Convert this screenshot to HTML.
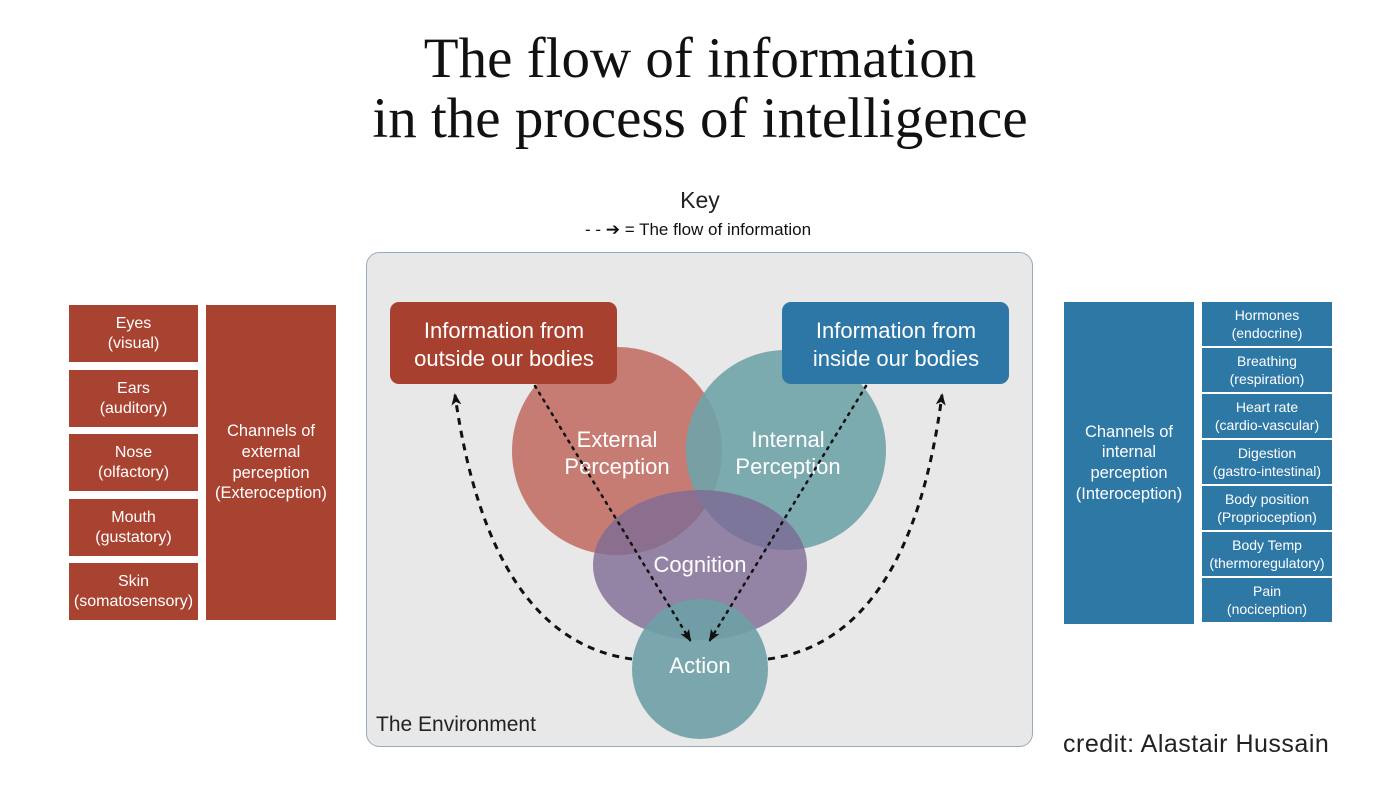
<!DOCTYPE html>
<html><head><meta charset="utf-8"><style>
body{margin:0;width:1400px;height:788px;background:#fff;position:relative;overflow:hidden;font-family:"Liberation Sans",sans-serif}
.t{position:absolute;left:0;width:1400px;text-align:center;font-family:"Liberation Serif",serif;font-size:57px;color:#111}
.b{position:absolute;color:#fff;text-align:center;display:flex;align-items:center;justify-content:center;line-height:1.25}
.r{background:#a84231}.bl{background:#2e78a6}
</style></head><body>
<div class="t" style="top:26px">The flow of information</div>
<div class="t" style="top:86px">in the process of intelligence</div>
<div style="position:absolute;left:0;width:1400px;text-align:center;top:187px;font-size:23px;color:#222">Key</div>
<div style="position:absolute;left:585px;top:220px;font-size:17px;color:#111">- - ➔ = The flow of information</div>

<div class="b r" style="left:69px;top:305px;width:129px;height:57px;font-size:16px">Eyes<br>(visual)</div>
<div class="b r" style="left:69px;top:370px;width:129px;height:57px;font-size:16px">Ears<br>(auditory)</div>
<div class="b r" style="left:69px;top:434px;width:129px;height:57px;font-size:16px">Nose<br>(olfactory)</div>
<div class="b r" style="left:69px;top:499px;width:129px;height:57px;font-size:16px">Mouth<br>(gustatory)</div>
<div class="b r" style="left:69px;top:563px;width:129px;height:57px;font-size:16px">Skin<br>(somatosensory)</div>
<div class="b r" style="left:206px;top:305px;width:130px;height:315px;font-size:16.5px">Channels of<br>external<br>perception<br>(Exteroception)</div>

<div class="b bl" style="left:1064px;top:302px;width:130px;height:322px;font-size:16.5px">Channels of<br>internal<br>perception<br>(Interoception)</div>
<div class="b bl" style="left:1202px;top:302px;width:130px;height:44px;font-size:14px;line-height:1.3">Hormones<br>(endocrine)</div>
<div class="b bl" style="left:1202px;top:348px;width:130px;height:44px;font-size:14px;line-height:1.3">Breathing<br>(respiration)</div>
<div class="b bl" style="left:1202px;top:394px;width:130px;height:44px;font-size:14px;line-height:1.3">Heart rate<br>(cardio-vascular)</div>
<div class="b bl" style="left:1202px;top:440px;width:130px;height:44px;font-size:14px;line-height:1.3">Digestion<br>(gastro-intestinal)</div>
<div class="b bl" style="left:1202px;top:486px;width:130px;height:44px;font-size:14px;line-height:1.3">Body position<br>(Proprioception)</div>
<div class="b bl" style="left:1202px;top:532px;width:130px;height:44px;font-size:14px;line-height:1.3">Body Temp<br>(thermoregulatory)</div>
<div class="b bl" style="left:1202px;top:578px;width:130px;height:44px;font-size:14px;line-height:1.3">Pain<br>(nociception)</div>

<svg style="position:absolute;left:0;top:0" width="1400" height="788">
<defs><marker id="a" markerUnits="userSpaceOnUse" markerWidth="12" markerHeight="12" refX="10" refY="6" orient="auto"><path d="M0,1 L12,6 L0,11 L3,6z" fill="#111"/></marker></defs>
<rect x="366.5" y="252.5" width="666" height="494" rx="13" fill="#e8e8e8" stroke="#9ab" stroke-width="1"/>
<ellipse cx="617" cy="451" rx="105" ry="104" fill="#c27268" opacity="0.92"/>
<ellipse cx="786" cy="450" rx="100" ry="100" fill="#6fa3a8" opacity="0.9"/>
<ellipse cx="700" cy="565" rx="107" ry="75" fill="#7d6a95" opacity="0.8"/>
<ellipse cx="700" cy="669" rx="68" ry="70" fill="#6ea0a6" opacity="0.9"/>
<rect x="390" y="302" width="227" height="82" rx="9" fill="#a84030"/>
<rect x="782" y="302" width="227" height="82" rx="9" fill="#2d77a6"/>
<g font-family="Liberation Sans,sans-serif" fill="#fff" text-anchor="middle" font-size="22">
<text x="504" y="338">Information from</text><text x="504" y="366">outside our bodies</text>
<text x="896" y="338">Information from</text><text x="896" y="366">inside our bodies</text>
<text x="617" y="447">External</text><text x="617" y="474">Perception</text>
<text x="788" y="447">Internal</text><text x="788" y="474">Perception</text>
<text x="700" y="572">Cognition</text>
<text x="700" y="673">Action</text>
</g>
<text x="376" y="731" font-size="21" fill="#222" font-family="Liberation Sans,sans-serif">The Environment</text>
<path d="M535,386 L690,640" stroke="#111" stroke-width="2.5" stroke-dasharray="2,6" stroke-linecap="round" fill="none" marker-end="url(#a)"/>
<path d="M866,386 L710,640" stroke="#111" stroke-width="2.5" stroke-dasharray="2,6" stroke-linecap="round" fill="none" marker-end="url(#a)"/>
<path d="M632,659 Q490,640 455,395" stroke="#111" stroke-width="3" stroke-dasharray="7,6" fill="none" marker-end="url(#a)"/>
<path d="M768,659 Q910,640 942,395" stroke="#111" stroke-width="3" stroke-dasharray="7,6" fill="none" marker-end="url(#a)"/>
</svg>
<div style="position:absolute;left:1063px;top:730px;font-size:25px;letter-spacing:0.5px;color:#222">credit: Alastair Hussain</div>
</body></html>
